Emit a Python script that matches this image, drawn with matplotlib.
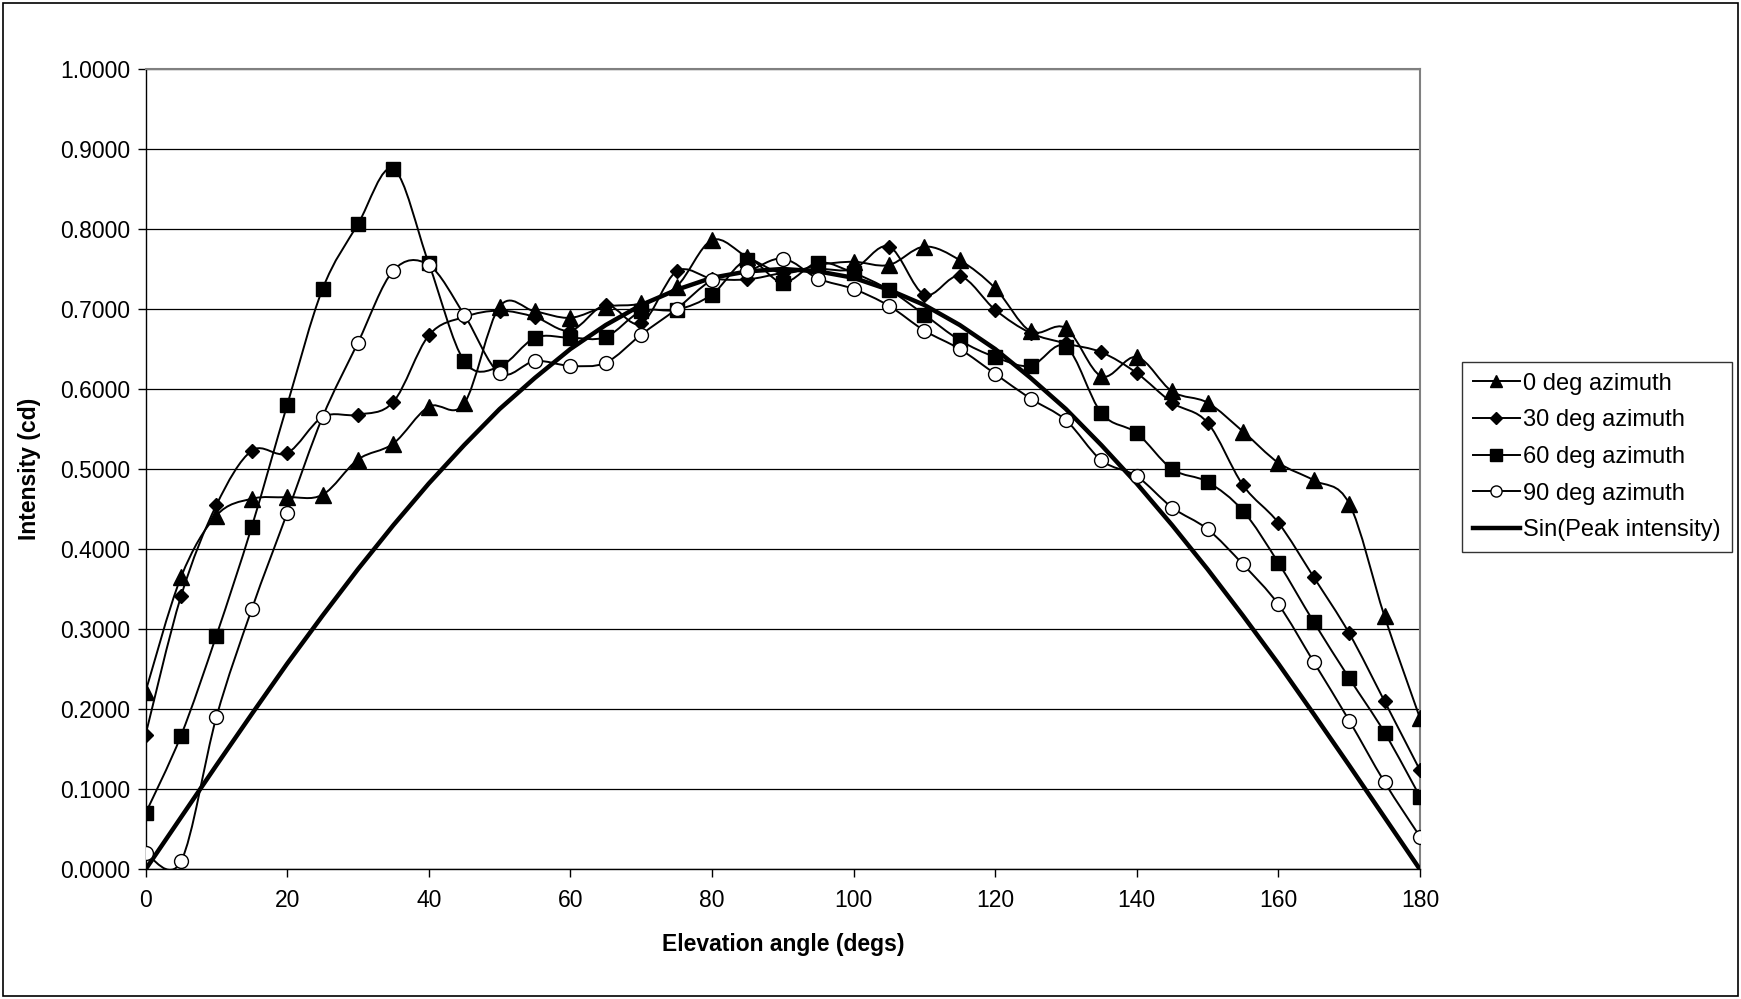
import numpy as np
import matplotlib
matplotlib.use("Agg")
import matplotlib.pyplot as plt
from matplotlib.path import Path
from matplotlib.patches import PathPatch, Rectangle
from matplotlib.lines import Line2D
from matplotlib.ticker import FormatStrFormatter, MultipleLocator

plt.rcParams['font.family'] = ['Liberation Sans', 'DejaVu Sans']

angles = list(range(0, 181, 5))

az0 = [0.222, 0.365, 0.442, 0.463, 0.465, 0.468, 0.512, 0.532, 0.578, 0.582,
       0.703, 0.697, 0.689, 0.703, 0.707, 0.728, 0.786, 0.765, 0.745, 0.755,
       0.759, 0.755, 0.778, 0.761, 0.726, 0.672, 0.676, 0.616, 0.640, 0.597,
       0.583, 0.547, 0.508, 0.486, 0.457, 0.316, 0.189]
az30 = [0.168, 0.341, 0.455, 0.523, 0.520, 0.565, 0.568, 0.584, 0.667, 0.690,
        0.698, 0.690, 0.673, 0.705, 0.682, 0.747, 0.738, 0.737, 0.745, 0.750,
        0.750, 0.778, 0.718, 0.741, 0.699, 0.670, 0.657, 0.646, 0.620, 0.583,
        0.558, 0.480, 0.433, 0.365, 0.295, 0.210, 0.124]
az60 = [0.070, 0.167, 0.292, 0.428, 0.580, 0.725, 0.806, 0.875, 0.757, 0.635,
        0.628, 0.664, 0.664, 0.665, 0.697, 0.699, 0.718, 0.761, 0.733, 0.758,
        0.745, 0.724, 0.693, 0.661, 0.640, 0.629, 0.653, 0.570, 0.545, 0.500,
        0.484, 0.448, 0.383, 0.309, 0.239, 0.171, 0.091]
az90 = [0.020, 0.010, 0.190, 0.325, 0.445, 0.565, 0.658, 0.748, 0.755, 0.693,
        0.620, 0.635, 0.629, 0.633, 0.668, 0.700, 0.736, 0.747, 0.763, 0.738,
        0.725, 0.704, 0.673, 0.650, 0.619, 0.588, 0.561, 0.511, 0.491, 0.452,
        0.425, 0.381, 0.331, 0.259, 0.186, 0.109, 0.041]
sin_peak = [0.000, 0.065, 0.130, 0.194, 0.257, 0.317, 0.375, 0.430, 0.482, 0.530,
            0.575, 0.614, 0.650, 0.680, 0.705, 0.724, 0.739, 0.747, 0.750, 0.747,
            0.739, 0.724, 0.705, 0.680, 0.650, 0.614, 0.575, 0.530, 0.482, 0.430,
            0.375, 0.317, 0.257, 0.194, 0.130, 0.065, 0.000]

labels = ['0 deg azimuth', '30 deg azimuth', '60 deg azimuth', '90 deg azimuth',
          'Sin(Peak intensity)']

FS = 16.5

fig = plt.figure(figsize=(17.41, 9.99), dpi=100)
ax = fig.add_axes([0.0836, 0.1297, 0.8156 - 0.0836, 0.9311 - 0.1297])

# outer chart border
fig.patches.append(Rectangle((0.002, 0.003), 0.996, 0.994, transform=fig.transFigure,
                             fill=False, edgecolor='black', linewidth=1.2))


def smooth_path(x, y):
    x = np.asarray(x, float)
    y = np.asarray(y, float)
    n = len(x)
    verts = [(x[0], y[0])]
    codes = [Path.MOVETO]
    for i in range(n - 1):
        x0, y0 = (x[i - 1], y[i - 1]) if i > 0 else (x[i], y[i])
        x3, y3 = (x[i + 2], y[i + 2]) if i + 2 < n else (x[i + 1], y[i + 1])
        c1 = (x[i] + (x[i + 1] - x0) / 6.0, y[i] + (y[i + 1] - y0) / 6.0)
        c2 = (x[i + 1] - (x3 - x[i]) / 6.0, y[i + 1] - (y3 - y[i]) / 6.0)
        verts += [c1, c2, (x[i + 1], y[i + 1])]
        codes += [Path.CURVE4] * 3
    return Path(verts, codes)


series = [
    (az0, '^', 'black', 11),
    (az30, 'D', 'black', 7.5),
    (az60, 's', 'black', 10),
    (az90, 'o', 'white', 10),
]

handles = []
for (vals, mk, fc, ms), lab in zip(series, labels[:4]):
    patch = PathPatch(smooth_path(angles, vals), facecolor='none', edgecolor='black',
                      linewidth=1.4, transform=ax.transData, zorder=3)
    ax.add_patch(patch)
    ax.plot(angles, vals, linestyle='none', marker=mk, markersize=ms,
            markerfacecolor=fc, markeredgecolor='black', markeredgewidth=1.0, zorder=4)
    handles.append(Line2D([], [], color='black', linewidth=1.4, marker=mk,
                          markersize=ms * 0.8, markerfacecolor=fc,
                          markeredgecolor='black', label=lab))

ax.plot(angles, sin_peak, color='black', linewidth=3.2, zorder=3)
handles.append(Line2D([], [], color='black', linewidth=3.2, label=labels[4]))

ax.set_xlim(0, 180)
ax.set_ylim(0, 1.0)
ax.xaxis.set_major_locator(MultipleLocator(20))
ax.yaxis.set_major_locator(MultipleLocator(0.1))
ax.yaxis.set_major_formatter(FormatStrFormatter('%.4f'))
ax.grid(axis='y', color='black', linewidth=0.9)
ax.set_axisbelow(True)

for s in ['top', 'right']:
    ax.spines[s].set_color('#808080')
    ax.spines[s].set_linewidth(1.5)
for s in ['left', 'bottom']:
    ax.spines[s].set_color('black')
    ax.spines[s].set_linewidth(1.0)

ax.tick_params(axis='both', direction='out', length=6, width=1.0, labelsize=FS, colors='black')
ax.tick_params(axis='x', pad=8)
ax.tick_params(axis='y', pad=5)

ax.set_xlabel('Elevation angle (degs)', fontsize=FS, fontweight='bold', labelpad=15)
ax.set_ylabel('Intensity (cd)', fontsize=FS, fontweight='bold', labelpad=14)

leg = fig.legend(handles=handles, loc='upper left',
                 bbox_to_anchor=(1462 / 1741, 1 - 362 / 999),
                 fontsize=17, frameon=True, fancybox=False, edgecolor='black',
                 handlelength=2.0, handletextpad=0.15, labelspacing=0.62,
                 borderpad=0.45, borderaxespad=0)
leg.get_frame().set_linewidth(1.0)

fig.savefig('out.png', dpi=100)
